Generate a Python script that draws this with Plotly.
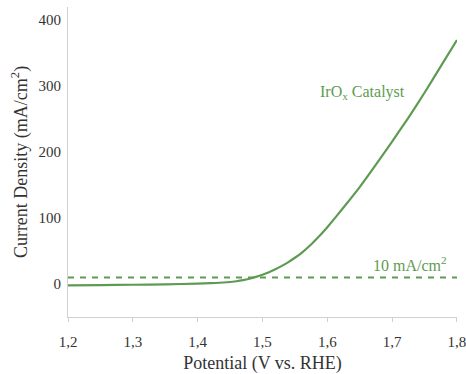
import plotly.graph_objects as go

potential = [1.20, 1.25, 1.30, 1.35, 1.40, 1.42, 1.44, 1.46, 1.47, 1.48, 1.49, 1.50,
             1.51, 1.52, 1.53, 1.54, 1.55, 1.56, 1.575, 1.59, 1.60, 1.625, 1.65,
             1.675, 1.70, 1.725, 1.75, 1.775, 1.80]
current = [-2, -1.6, -1.1, -0.4, 0.6, 1.3, 2.3, 4.2, 5.8, 8.0, 10.8, 14,
           17.8, 22.3, 27.5, 33.3, 39.8, 47, 60, 75, 86, 116, 147,
           181, 216, 252, 290, 330, 370]
ref_x = [1.2, 1.8]
ref_y = [10, 10]
x_ticks = [1.2, 1.3, 1.4, 1.5, 1.6, 1.7, 1.8]
x_labels = ["1,2", "1,3", "1,4", "1,5", "1,6", "1,7", "1,8"]
y_ticks = [0, 100, 200, 300, 400]

green = "#5e9b52"
font_family = "Liberation Serif"

fig = go.Figure()
fig.add_trace(go.Scatter(x=ref_x, y=ref_y, mode="lines",
                         line=dict(color=green, width=2, dash="6px,6px"),
                         showlegend=False, hoverinfo="skip", cliponaxis=False))
fig.add_trace(go.Scatter(x=potential, y=current, mode="lines",
                         line=dict(color=green, width=2.2, shape="spline", smoothing=0.4),
                         showlegend=False, cliponaxis=False))

fig.add_annotation(x=1.655, y=290, text="IrO<sub>x</sub> Catalyst", showarrow=False,
                   font=dict(family=font_family, size=16, color=green), xanchor="center")
fig.add_annotation(x=1.787, y=31, text="10 mA/cm<sup>2</sup>", showarrow=False,
                   font=dict(family=font_family, size=16, color=green), xanchor="right")

fig.update_layout(
    width=466, height=374,
    margin=dict(l=68, r=9, t=7, b=57, autoexpand=False),
    paper_bgcolor="white", plot_bgcolor="white",
    font=dict(family=font_family, size=15, color="#333333"),
    xaxis=dict(range=[1.2, 1.8001], tickvals=x_ticks, ticktext=x_labels,
               showgrid=False, zeroline=False, showline=True, linecolor="#d0d0d0",
               linewidth=1, ticks="outside", ticklen=4, tickcolor="#d0d0d0",
               automargin=False, ticklabeloverflow="allow", ticklabelstandoff=7,
               title=dict(text="Potential (V vs. RHE)", standoff=14),
               tickfont=dict(size=15)),
    yaxis=dict(range=[-50, 420], tickvals=y_ticks, showgrid=False, zeroline=False,
               showline=True, linecolor="#d0d0d0", linewidth=1, ticks="",
               automargin=False, ticklabeloverflow="allow", ticklabelstandoff=3,
               title=dict(text="Current Density (mA/cm<sup>2</sup>)", standoff=6),
               tickfont=dict(size=15)),
)

fig.write_html("out.html", config={"displayModeBar": False},
               post_script="document.body.style.margin='0';document.body.style.overflow='hidden';")
